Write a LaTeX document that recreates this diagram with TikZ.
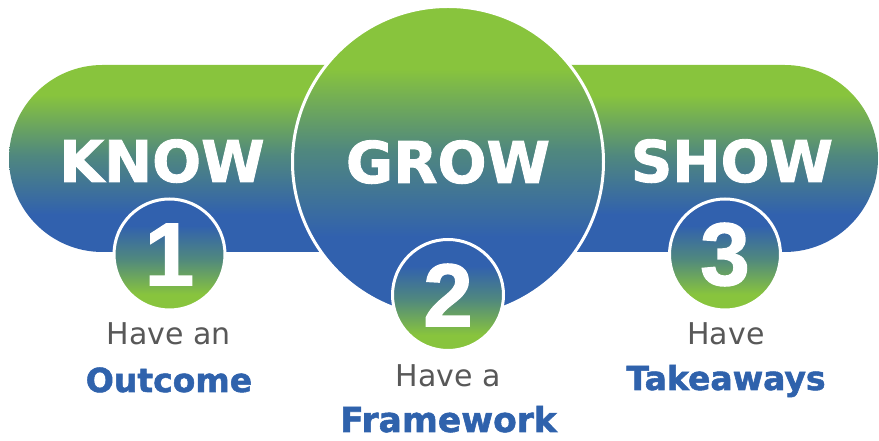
\documentclass[tikz,border=0pt]{standalone}
\usepackage{fontspec}
\setmainfont{DejaVu Sans}
\newfontfamily\heavyfont[BoldFeatures={FakeBold=1.6}]{DejaVu Sans}
\newfontfamily\digitfont[BoldFeatures={FakeBold=1.6}]{Liberation Sans}
\usetikzlibrary{%
  shapes,%
  positioning% wg. " of "
}

\definecolor{kgreen}{RGB}{136,196,61}
\definecolor{kblue}{RGB}{49,97,174}
\definecolor{kteal}{RGB}{80,136,126}
\definecolor{kgray}{RGB}{88,88,88}
\definecolor{ktext}{RGB}{47,98,172}

\pgfdeclareverticalshading{pillshade}{100bp}{color(0bp)=(kblue); color(35bp)=(kblue); color(51bp)=(kteal); color(67bp)=(kgreen); color(100bp)=(kgreen)}
\pgfdeclareverticalshading{growshade}{100bp}{color(0bp)=(kblue); color(38bp)=(kblue); color(52bp)=(kteal); color(65bp)=(kgreen); color(100bp)=(kgreen)}
\pgfdeclareverticalshading{numshade}{100bp}{color(0bp)=(kgreen); color(32bp)=(kgreen); color(48bp)=(kteal); color(63bp)=(kblue); color(100bp)=(kblue)}

\begin{document}
\begin{tikzpicture}
  [
  x=1pt, y=1pt, line width=3pt,
  growdisc/.style={circle, inner sep=0pt, minimum size=311pt, draw=white, shading=growshade},
  numdisc/.style={circle, inner sep=0pt, minimum size=111pt, draw=white, shading=numshade,
    text=white, font=\digitfont\bfseries\fontsize{89}{90}\selectfont},
  headword/.style={anchor=base, inner sep=0pt, text=white, font=\heavyfont\bfseries\fontsize{57.6}{60}\selectfont},
  lowword/.style={anchor=base, inner sep=0pt, text=kgray, font=\fontsize{30}{32}\selectfont},
  keyword/.style={anchor=base, inner sep=0pt, text=ktext, font=\heavyfont\bfseries\fontsize{33}{35}\selectfont}
  ]

  \useasboundingbox (0,0) rectangle (879,441);

  % the two pills
  \path[shading=pillshade, rounded corners=93.5pt] (9,189) rectangle (450,376);
  \path[shading=pillshade, rounded corners=93.5pt] (445,189) rectangle (878,376);

  \node[growdisc] (grow) at (448,279) {};

  \foreach \n/\x/\y in {1/169.5/186.5, 2/448/146, 3/725/186.5} {
    \node[numdisc] (num\n) at (\x,\y) {\n};
  }

  \node[headword] (know) at (162,259) {KNOW};
  \node[headword] (growtext) at (448,258) {GROW};
  \node[headword] (show) at (732,259) {SHOW};

  \node[lowword] (have1) at (168.5,96) {Have an};
  \node[keyword] (outcome) at (169,49) {Outcome};
  \node[lowword] (have2) at (448.5,54) {Have a};
  \node[keyword, font=\heavyfont\bfseries\fontsize{34.5}{36}\selectfont] (framework) at (448.5,9) {Framework};
  \node[lowword] (have3) at (726,96) {Have};
  \node[keyword] (takeaways) at (726,51) {Takeaways};
\end{tikzpicture}
\end{document}
